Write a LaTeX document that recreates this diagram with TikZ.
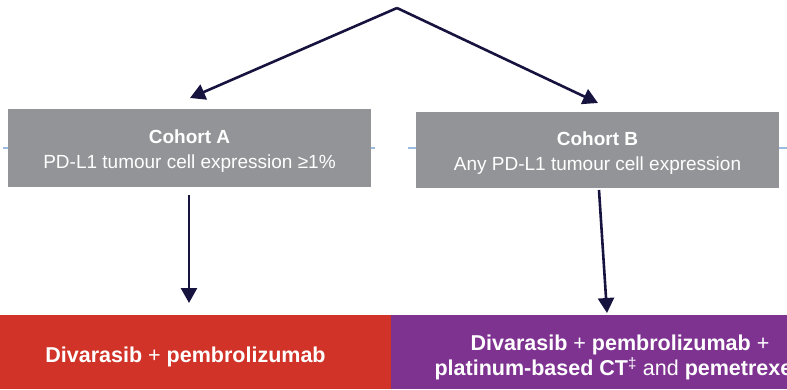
\documentclass[tikz,border=0pt]{standalone}
\usepackage{fontspec}
\setmainfont{Liberation Sans}
\usetikzlibrary{arrows.meta}
\definecolor{boxgrey}{HTML}{939497}
\definecolor{armred}{HTML}{D13328}
\definecolor{armpurple}{HTML}{7F3391}
\definecolor{arrownavy}{HTML}{16133F}
\definecolor{lineblue}{HTML}{9BBCE0}
\tikzset{
  cohort/.style={fill=boxgrey, inner sep=0pt},
  cohorttext/.style={text=white, align=center, inner sep=0pt, font=\fontsize{19}{25}\selectfont},
  armtext/.style={text=white, align=center, inner sep=0pt, font=\fontsize{21.5}{25}\selectfont},
  armbox/.style={inner sep=0pt},
  flow/.style={draw=arrownavy, line width=2.6pt, -{Triangle[length=15pt,width=16pt]}},
}
\begin{document}
\begin{tikzpicture}[x=1pt,y=-1pt]
\useasboundingbox (0,0) rectangle (787,389);
\begin{scope}
\clip (0,0) rectangle (787,389);
% light blue guide lines
\draw[lineblue, line width=1.2pt] (3,148) -- (375,148);
\draw[lineblue, line width=1.2pt] (408,148) -- (787,148);
% cohort boxes
\node[cohort, minimum width=363pt, minimum height=78pt] (A) at (189.5,148) {};
\node[cohorttext] (Atext) at ([yshift=-3.5pt]A.center) {\textbf{Cohort A}\\PD-L1 tumour cell expression ≥1\%};
\node[cohort, minimum width=363pt, minimum height=76pt] (B) at (597.5,150) {};
\node[cohorttext] (Btext) at ([yshift=-3.5pt]B.center) {\textbf{Cohort B}\\Any PD-L1 tumour cell expression};
% arm boxes
\node[armbox, fill=armred, minimum width=411pt, minimum height=74pt] (R) at (185.5,352) {};
\node[armtext] (Rtext) at ([yshift=-5pt]R.center) {\textbf{Divarasib} + \textbf{pembrolizumab}};
\node[armbox, fill=armpurple, minimum width=458pt, minimum height=74pt] (P) at (620,352) {};
\node[armtext] (Ptext) at ([yshift=-5.5pt]P.center) {\textbf{Divarasib} + \textbf{pembrolizumab} +\\\textbf{platinum-based CT}\textsuperscript{‡} and \textbf{pemetrexed}};
% arrows
\coordinate (top) at (397,8);
\coordinate (tipA) at (190,98);
\coordinate (tipB) at (598,103);
\coordinate (sA) at (189,195);
\coordinate (eA) at (189,303);
\coordinate (sB) at (599,190);
\coordinate (eB) at (607,313);
\draw[flow] (top) -- (tipA);
\draw[flow] (top) -- (tipB);
\draw[flow] (sA) -- (eA);
\draw[flow] (sB) -- (eB);
\end{scope}
\end{tikzpicture}
\end{document}
